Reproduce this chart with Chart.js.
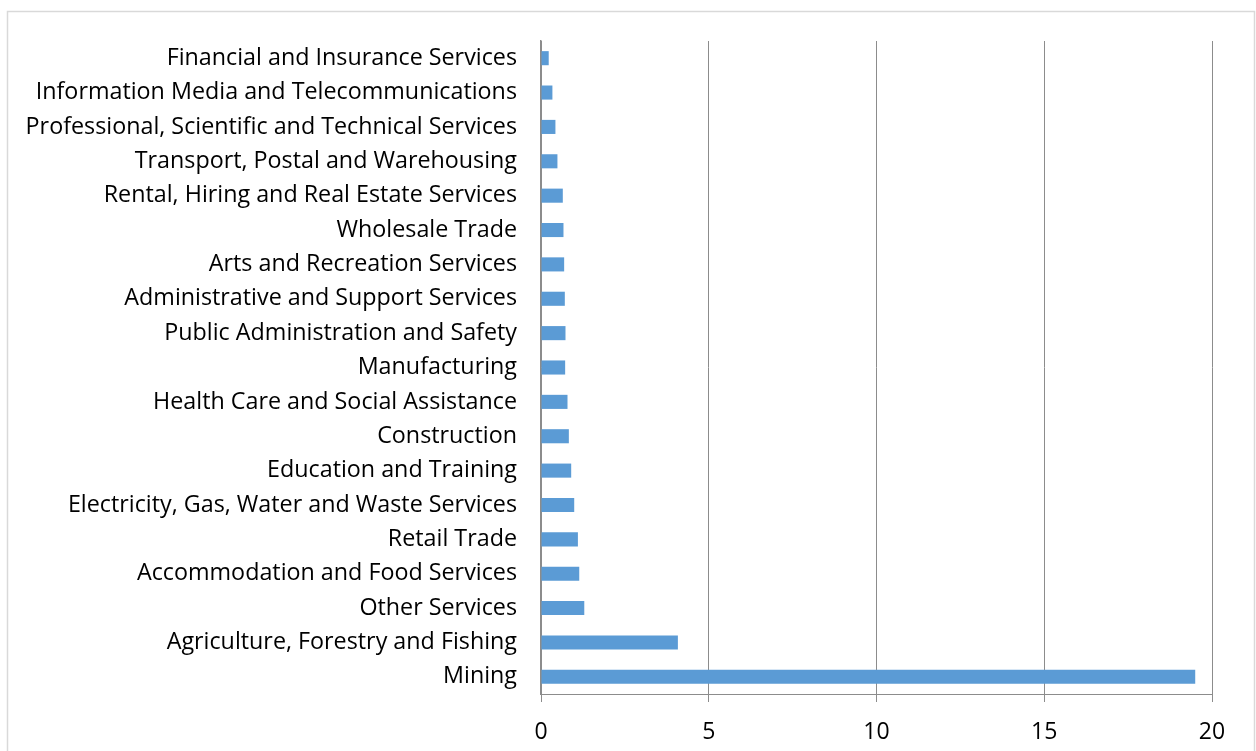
<!DOCTYPE html>
<html>
<head>
<meta charset="utf-8">
<script src="https://cdn.jsdelivr.net/npm/chart.js@4/dist/chart.umd.min.js"></script>
<style>
  html, body { margin: 0; padding: 0; background: #ffffff; }
  #wrap { position: relative; width: 1256px; height: 751px; }
  canvas { display: block; }
</style>
</head>
<body>
<div id="wrap"><canvas id="c" width="1256" height="751"></canvas></div>
<script>
// Industries, top to bottom
const industries = [
  "Financial and Insurance Services",
  "Information Media and Telecommunications",
  "Professional, Scientific and Technical Services",
  "Transport, Postal and Warehousing",
  "Rental, Hiring and Real Estate Services",
  "Wholesale Trade",
  "Arts and Recreation Services",
  "Administrative and Support Services",
  "Public Administration and Safety",
  "Manufacturing",
  "Health Care and Social Assistance",
  "Construction",
  "Education and Training",
  "Electricity, Gas, Water and Waste Services",
  "Retail Trade",
  "Accommodation and Food Services",
  "Other Services",
  "Agriculture, Forestry and Fishing",
  "Mining"
];

// Value per industry
const values = [
  0.23, 0.34, 0.43, 0.49, 0.65, 0.67, 0.69, 0.71, 0.73, 0.72,
  0.79, 0.83, 0.90, 0.99, 1.10, 1.14, 1.29, 4.08, 19.5
];

// Value axis ticks
const xTicks = [0, 5, 10, 15, 20];

const FONT = "'Open Sans', 'Noto Sans', sans-serif";

// Light frame around the whole chart
const framePlugin = {
  id: 'frame',
  beforeDraw(chart) {
    const ctx = chart.ctx;
    ctx.save();
    ctx.fillStyle = '#ffffff';
    ctx.fillRect(0, 0, chart.width, chart.height);
    ctx.strokeStyle = '#d9d9d9';
    ctx.lineWidth = 1.5;
    ctx.strokeRect(7.5, 11.5, 1247, 760);
    ctx.restore();
  }
};

new Chart(document.getElementById('c'), {
  type: 'bar',
  data: {
    labels: industries,
    datasets: [{
      data: values,
      backgroundColor: '#5b9bd5',
      borderWidth: 0,
      barPercentage: 0.41,
      categoryPercentage: 1.0
    }]
  },
  options: {
    indexAxis: 'y',
    responsive: false,
    animation: false,
    devicePixelRatio: 1,
    layout: { padding: { top: 41, right: 44, left: 0, bottom: 0 } },
    plugins: {
      legend: { display: false },
      tooltip: { enabled: false }
    },
    scales: {
      x: {
        min: 0,
        max: 20,
        afterBuildTicks(scale) {
          scale.ticks = xTicks.map(v => ({ value: v }));
        },
        afterFit(scale) { scale.height = 57; },
        grid: {
          color: '#8c8c8c',
          lineWidth: 1,
          drawTicks: true,
          tickLength: 8,
          tickColor: '#8c8c8c'
        },
        border: { display: true, color: '#8c8c8c', width: 1 },
        ticks: {
          color: '#000000',
          font: { family: FONT, size: 23 },
          padding: 17,
          maxRotation: 0
        }
      },
      y: {
        afterFit(scale) { scale.width = 541; },
        grid: { display: false, drawTicks: false },
        border: { display: true, color: '#8c8c8c', width: 1.5 },
        ticks: {
          color: '#000000',
          font: { family: FONT, size: 23.3 },
          padding: 24,
          autoSkip: false
        }
      }
    }
  },
  plugins: [framePlugin]
});
</script>
</body>
</html>
